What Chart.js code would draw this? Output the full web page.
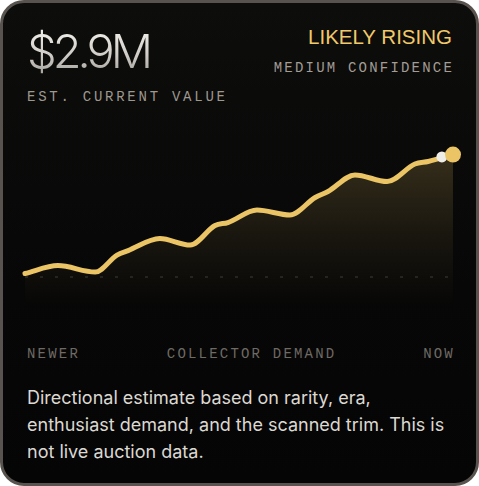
<!DOCTYPE html>
<html>
<head>
<meta charset="utf-8">
<script src="https://cdn.jsdelivr.net/npm/chart.js@4/dist/chart.umd.min.js"></script>
<style>
  html, body { margin: 0; padding: 0; background: #ffffff; }
  .card {
    position: relative; box-sizing: border-box;
    width: 479px; height: 486px;
    border: 3px solid #58534e; border-radius: 24px;
    background: linear-gradient(180deg, #0d0d0c 0%, #070707 60%, #050505 100%);
    overflow: hidden;
  }
  .abs { position: absolute; white-space: nowrap; }
  .value {
    left: 24px; top: 24px; font-family: Inter, "Liberation Sans", sans-serif;
    font-weight: 300; font-size: 47px; line-height: 47px; letter-spacing: -4px;
    background: linear-gradient(180deg, #f4f2ee 0%, #cfcbc6 60%, #a8a49f 100%);
    -webkit-background-clip: text; background-clip: text; color: transparent;
  }
  .mono { font-family: "Liberation Mono", monospace; font-size: 14px; line-height: 14px; letter-spacing: 2.2px; }
  .est { left: 24px; top: 87px; color: #9e988f; letter-spacing: 2.75px; }
  .trend { right: 24px; top: 24px; font-family: "Liberation Sans", sans-serif; font-size: 20.5px; line-height: 20px; color: #f1c969; }
  .conf { right: 22px; top: 58px; color: #a39d95; }
  .axis { left: 24px; width: 428px; top: 344px; display: flex; justify-content: space-between; color: #6f6a64; }
  .note { left: 24px; top: 381px; font-family: Inter, "Liberation Sans", sans-serif; font-size: 18px; line-height: 27px; color: #dcd8d2; }
  .chartbox { position: absolute; left: 12px; top: 127px; width: 448px; height: 190px; }
</style>
</head>
<body>
<div class="card">
  <div class="abs value" id="value"></div>
  <div class="abs mono est" id="est"></div>
  <div class="abs trend" id="trend"></div>
  <div class="abs mono conf" id="conf"></div>
  <div class="chartbox"><canvas id="c"></canvas></div>
  <div class="abs mono axis" id="axis"></div>
  <div class="abs note" id="note"></div>
</div>
<script>
// ---- data ----
const headlineValue = "$2.9M";
const headlineLabel = "EST. CURRENT VALUE";
const trendLabel = "LIKELY RISING";
const confidenceLabel = "MEDIUM CONFIDENCE";
const axisLabels = ["NEWER", "COLLECTOR DEMAND", "NOW"];
const noteLines = [
  "Directional estimate based on rarity, era,",
  "enthusiast demand, and the scanned trim. This is",
  "not live auction data."
];
const positions = [0, 7.7, 16.4, 21.5, 24.1, 31.5, 38.6, 44.4, 47.4, 54.2, 61.9, 67.8, 70.8, 77.1, 84.6, 91.1, 94.2, 100];
const demand    = [11, 16.3, 12, 23.3, 26.3, 34.3, 30, 43, 45, 53.3, 50, 61.7, 65.7, 76.7, 72.3, 84, 85.7, 90.3];
const baselineLevel = 8.7;
const glarePoint = [97.4, 88.7];

// ---- text ----
document.getElementById('value').textContent = headlineValue;
document.getElementById('est').textContent = headlineLabel;
document.getElementById('trend').textContent = trendLabel;
document.getElementById('conf').textContent = confidenceLabel;
const axisEl = document.getElementById('axis');
axisLabels.forEach(t => { const s = document.createElement('span'); s.textContent = t; axisEl.appendChild(s); });
const noteEl = document.getElementById('note');
noteLines.forEach((l, i) => { if (i) noteEl.appendChild(document.createElement('br')); noteEl.appendChild(document.createTextNode(l)); });

// ---- chart ----
const GOLD = '#eac465';
const linePts = positions.map((x, i) => ({ x, y: demand[i] }));
const lastPt = linePts[linePts.length - 1];

new Chart(document.getElementById('c'), {
  type: 'line',
  data: {
    datasets: [
      { data: [lastPt], pointRadius: 8, pointBackgroundColor: GOLD, pointBorderWidth: 0, showLine: false, clip: false, order: 0 },
      { data: [{ x: glarePoint[0], y: glarePoint[1] }], pointRadius: 5.5, pointBackgroundColor: '#efede8', pointBorderWidth: 0, showLine: false, clip: false, order: 1 },
      {
        data: linePts, borderColor: GOLD, borderWidth: 5, pointRadius: 0,
        cubicInterpolationMode: 'monotone', borderCapStyle: 'round', borderJoinStyle: 'round',
        fill: 'start', clip: false,
        backgroundColor: (ctx) => {
          const a = ctx.chart.chartArea;
          if (!a) return 'rgba(234,196,101,0.1)';
          const g = ctx.chart.ctx.createLinearGradient(0, a.top, 0, a.bottom);
          g.addColorStop(0, 'rgba(234,196,101,0.22)');
          g.addColorStop(0.55, 'rgba(234,196,101,0.08)');
          g.addColorStop(1, 'rgba(234,196,101,0)');
          return g;
        },
        order: 2
      },
      {
        data: [{ x: 0, y: baselineLevel }, { x: 100, y: baselineLevel }],
        borderColor: 'rgba(255,255,255,0.13)', borderWidth: 1.5, borderDash: [3, 12],
        pointRadius: 0, fill: false, order: 3
      }
    ]
  },
  options: {
    responsive: true, maintainAspectRatio: false, animation: false,
    layout: { padding: { left: 10, right: 10, top: 10, bottom: 10 } },
    plugins: { legend: { display: false }, tooltip: { enabled: false } },
    scales: {
      x: { type: 'linear', min: 0, max: 100, display: false },
      y: { type: 'linear', min: -13.3, max: 100, display: false }
    }
  }
});
</script>
</body>
</html>
